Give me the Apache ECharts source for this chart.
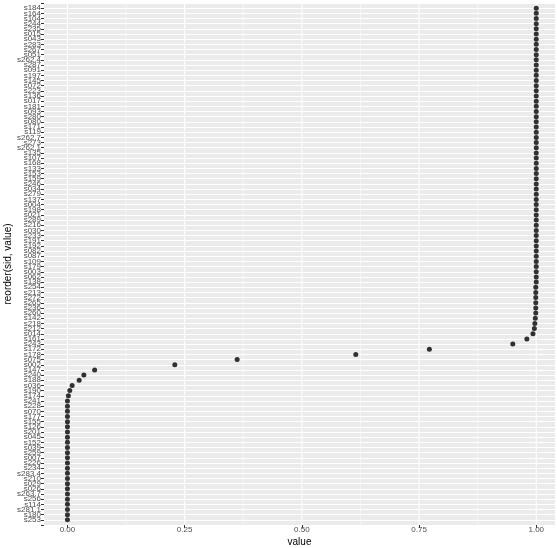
<!DOCTYPE html>
<html>
<head>
    <meta charset="utf-8">
    <title>ECharts</title>
    <script src="https://cdn.jsdelivr.net/npm/echarts@6/dist/echarts.min.js"></script>
</head>
<body style="margin:0">
<div id="main" style="width: 557px;height:548px;"></div>
<script type="text/javascript">
    // sample ids, top to bottom (ordered by value)
    var sids = [
        's184', 's164', 's104', 's244', 's235', 's015', 's043', 's283', 's267', 's051',
        's262.4', 's287', 's091', 's197', 's145', 's072', 's223', 's136', 's017', 's181',
        's093', 's280', 's080', 's171', 's119', 's262.7', 's273', 's262.1', 's135', 's107',
        's168', 's133', 's153', 's159', 's246', 's034', 's279', 's137', 's004', 's198',
        's021', 's289', 's216', 's030', 's233', 's191', 's192', 's082', 's087', 's109',
        's179', 's003', 's062', 's138', 's254', 's213', 's272', 's265', 's236', 's260',
        's142', 's218', 's212', 's014', 's161', 's243', 's172', 's178', 's075', 's002',
        's147', 's240', 's188', 's036', 's190', 's174', 's241', 's228', 's070', 's177',
        's155', 's126', 's201', 's045', 's152', 's039', 's259', 's007', 's226', 's234',
        's283.4', 's210', 's029', 's026', 's263.7', 's256', 's114', 's281.1', 's180', 's253'
    ];
    var values = [
        1, 1, 1, 1, 1, 1, 1, 1, 1, 1,
        1, 1, 1, 1, 1, 1, 1, 1, 1, 1,
        1, 1, 1, 1, 1, 1, 1, 1, 1, 1,
        1, 1, 1, 1, 1, 1, 1, 1, 1, 1,
        1, 1, 1, 1, 1, 1, 1, 1, 1, 1,
        1, 1, 1, 1, 0.999, 0.999, 0.999, 0.999, 0.999, 0.999,
        0.998, 0.997, 0.996, 0.993, 0.98, 0.95, 0.772, 0.615, 0.362, 0.229,
        0.058, 0.035, 0.025, 0.01, 0.005, 0.002, 0, 0, 0, 0,
        0, 0, 0, 0, 0, 0, 0, 0, 0, 0,
        0, 0, 0, 0, 0, 0, 0, 0, 0, 0
    ];
    var xMajor = [0, 0.25, 0.5, 0.75, 1];
    var xMinor = [0.125, 0.375, 0.625, 0.875];

    var points = [];
    for (var i = 0; i < values.length; i++) {
        points.push([values[i], i + 1]);
    }

    // white vertical panel grid lines: [x, lineWidth]
    var gridLines = [];
    xMajor.forEach(function (v) { gridLines.push([v, 1.1]); });
    xMinor.forEach(function (v) { gridLines.push([v, 0.5]); });

    var myChart = echarts.init(document.getElementById('main'));
    var option = {
        animation: false,
        textStyle: {fontFamily: 'Liberation Sans'},
        grid: {
            left: 44, right: 2, top: 3, bottom: 23,
            outerBoundsMode: 'none',
            containLabel: false,
            show: true, backgroundColor: '#EBEBEB', borderWidth: 0
        },
        xAxis: {
            type: 'value',
            min: -0.05,
            max: 1.04,
            name: 'value',
            nameLocation: 'middle',
            nameGap: 12,
            nameMoveOverlap: false,
            nameTextStyle: {fontSize: 10, color: '#000'},
            axisLine: {show: false, onZero: false},
            axisTick: {show: true, length: 3, lineStyle: {color: '#333'}, customValues: xMajor},
            axisLabel: {fontSize: 8, color: '#4d4d4d', margin: 1, customValues: xMajor,
                formatter: function (v) { return v.toFixed(2); }},
            splitLine: {show: false}
        },
        yAxis: {
            type: 'value',
            inverse: true,
            min: 0,
            max: sids.length + 1,
            interval: 1,
            name: 'reorder(sid, value)',
            nameLocation: 'middle',
            nameGap: 31,
            nameMoveOverlap: false,
            nameRotate: 90,
            nameTextStyle: {fontSize: 10, color: '#000'},
            axisLine: {show: false, onZero: false},
            axisTick: {show: true, length: 3, lineStyle: {color: '#333'}},
            axisLabel: {
                fontSize: 8, color: '#4d4d4d', margin: 3,
                formatter: function (v) { return sids[v - 1] || ''; }
            },
            splitLine: {show: true, lineStyle: {color: '#fff', width: 1}}
        },
        series: [
            {
                type: 'custom',
                silent: true,
                z: 1,
                data: gridLines,
                renderItem: function (params, api) {
                    var x = api.value(0);
                    var p0 = api.coord([x, 0]);
                    var p1 = api.coord([x, sids.length + 1]);
                    return {
                        type: 'line',
                        shape: {x1: p0[0], y1: p0[1], x2: p1[0], y2: p1[1]},
                        style: {stroke: '#ffffff', lineWidth: api.value(1)}
                    };
                }
            },
            {
                type: 'scatter',
                z: 3,
                symbolSize: 5,
                itemStyle: {color: '#000'},
                data: points
            }
        ]
    };
    myChart.setOption(option);
</script>
</body>
</html>
